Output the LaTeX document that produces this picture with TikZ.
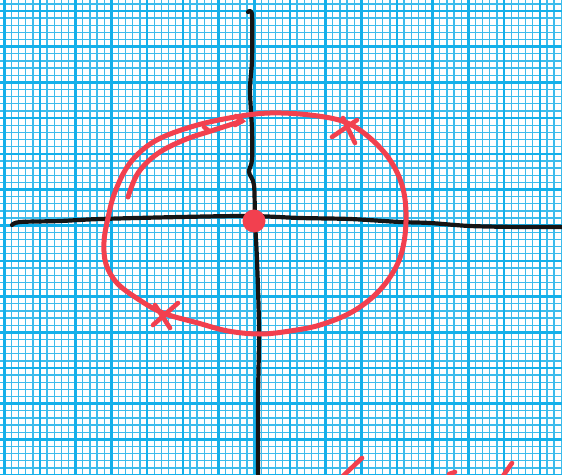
\documentclass[tikz,border=0pt]{standalone}
\usepackage{tikz}
\usetikzlibrary{arrows.meta,positioning,calc}
\definecolor{grd}{HTML}{14B0EA}
\definecolor{grdl}{HTML}{3DBCEC}
\definecolor{pen}{HTML}{F2404F}
\definecolor{ink}{HTML}{151515}
\tikzset{
  minor/.style ={draw=grdl, line width=1.3pt},
  major/.style ={draw=grd, line width=2.6pt},
  axis/.style  ={draw=ink, line width=4.2pt, line cap=round, line join=round},
  loop/.style  ={draw=pen, line width=5pt, line cap=round, line join=round},
  tick/.style  ={draw=pen, line width=4.6pt, line cap=round},
  dotnode/.style={circle, fill=pen, inner sep=0pt, minimum size=23pt},
}
\begin{document}
\begin{tikzpicture}[x=1pt,y=-1pt]
\useasboundingbox (0,0) rectangle (562,474);
\fill[white] (0,0) rectangle (562,474);
\begin{scope}
\clip (0,0) rectangle (562,474);
% graph paper
\foreach \i in {0,...,79}{\draw[minor] ({4.3+7.14*\i},0) -- ++(0,474);}
\foreach \i in {0,...,67}{\draw[minor] (0,{3.86+7.14*\i}) -- ++(562,0);}
\foreach \i in {0,...,16}{\draw[major] ({4.3+35.7*\i},0) -- ++(0,474);}
\foreach \i in {0,...,13}{\draw[major] (0,{11+35.7*\i}) -- ++(562,0);}
% axes
\draw[axis] plot[smooth, tension=0.5] coordinates
  {(12,225) (20,222) (60,221) (100,219) (180,217) (250,216) (300,218)
   (350,219) (400,222) (430,223) (470,226) (520,227) (562,227)};
\draw[axis] plot[smooth, tension=0.5] coordinates
  {(248,12) (252,15) (252,60) (250,90) (252,130) (252,160) (249,172)
   (254,185) (255,221) (257,260) (259,330) (258,400) (258,474)};
% red loop
\draw[loop] plot[smooth cycle, tension=0.6] coordinates
  {(270,113) (310,115) (345,122) (370,138) (390,160) (402,185) (406,212)
   (404,242) (396,267) (378,292) (352,312) (320,325) (290,331) (260,334)
   (228,331) (198,323) (163,313) (138,299) (117,283) (106,264) (104,242)
   (108,218) (115,192) (130,163) (155,141) (194,126) (235,117)};
\draw[loop] plot[smooth, tension=0.6] coordinates
  {(128,197) (138,173) (157,154) (184,140) (214,130) (242,121)};
\draw[tick] (236,116) -- (242,121) -- (235,125);
\draw[tick] (204,127) -- (209,131);
% crosses
\draw[tick] (332,137) -- (357,120);
\draw[tick] (343,118) -- (355,143);
\draw[tick] (153,325) -- (178,303);
\draw[tick] (155,305) -- (170,328);
% stray marks at the foot
\draw[tick] (343,476) -- (362,458);
\draw[tick] (449,474) -- (455,472);
\draw[tick] (503,476) -- (512,463);
\end{scope}
\node[dotnode] (origin) at (254,221) {};
\end{tikzpicture}
\end{document}
